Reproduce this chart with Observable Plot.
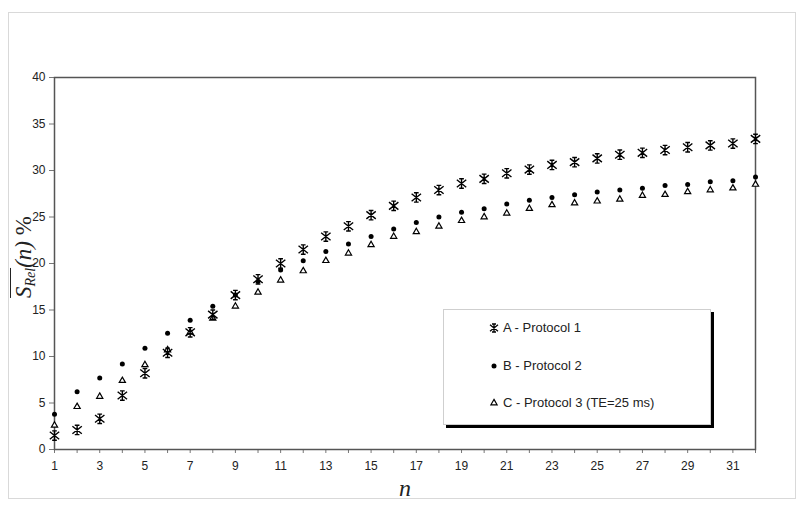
<!DOCTYPE html>
<html><head><meta charset="utf-8">
<script src="https://cdn.jsdelivr.net/npm/d3@7"></script>
<script src="https://cdn.jsdelivr.net/npm/@observablehq/plot@0.6"></script>
<style>
body{margin:0;background:#fff;}
#wrap{position:relative;width:800px;height:515px;font-family:"Liberation Sans",Arial,sans-serif;color:#222;}
#border{position:absolute;left:8px;top:12px;width:788px;height:487px;border:1px solid #d9d9d9;box-sizing:border-box;}
#chart{position:absolute;left:0;top:0;}
#ylab{position:absolute;left:24px;top:257px;transform:translate(-50%,-50%) rotate(-90deg);white-space:nowrap;font-family:"Liberation Serif","Times New Roman",serif;font-size:23px;color:#222;line-height:1;}
#ylab .ov{display:inline-block;border-top:1.3px solid #222;padding-top:1px;font-style:italic;line-height:1;}
#ylab sub{font-size:14px;vertical-align:-4px;line-height:1;}
#legend{position:absolute;left:443px;top:309px;width:268px;height:116px;box-sizing:border-box;background:#fff;border:1px solid #cfcfcf;box-shadow:3px 3px 0 #000;}
.row{position:absolute;left:0;height:20px;line-height:20px;font-size:13px;white-space:nowrap;}
.row svg{position:absolute;left:42px;top:2px;}
.row span{position:absolute;left:59px;}
</style>
</head><body>
<div id="wrap">
  <div id="border"></div>
  <div id="chart"></div>
  <div id="ylab"><span class="ov">S<sub>Rel</sub></span><i>(n)</i>&nbsp;%</div>
  <div id="legend"></div>
</div>
<script>
// ---- data ----
const nValues = [1,2,3,4,5,6,7,8,9,10,11,12,13,14,15,16,17,18,19,20,21,22,23,24,25,26,27,28,29,30,31,32];
const seriesA = [1.5,2.1,3.3,5.8,8.2,10.4,12.6,14.5,16.6,18.3,20.0,21.5,22.9,24.0,25.2,26.2,27.1,27.9,28.6,29.1,29.7,30.1,30.6,30.9,31.3,31.7,31.9,32.2,32.5,32.7,32.9,33.4];
const seriesB = [3.8,6.2,7.7,9.2,10.9,12.5,13.9,15.4,16.6,18.1,19.3,20.3,21.3,22.1,22.9,23.7,24.4,25.0,25.5,25.9,26.4,26.8,27.1,27.4,27.7,27.9,28.1,28.4,28.5,28.8,28.9,29.3];
const seriesC = [2.6,4.6,5.7,7.4,9.1,10.7,12.6,14.1,15.4,16.9,18.2,19.2,20.3,21.1,22.0,22.9,23.4,24.0,24.6,25.0,25.4,25.9,26.3,26.5,26.7,26.9,27.3,27.4,27.7,27.9,28.1,28.5];
const xTickLabels = [1,3,5,7,9,11,13,15,17,19,21,23,25,27,29,31];
const yTicks = [0,5,10,15,20,25,30,35,40];
const seriesNames = ["A - Protocol 1","B - Protocol 2","C - Protocol 3 (TE=25 ms)"];

const rows = nValues.map((n,i)=>({n, a: seriesA[i], b: seriesB[i], c: seriesC[i]}));

// Excel-like star marker: X plus vertical bar
const star = {
  draw(ctx, size){
    const r = Math.sqrt(size/Math.PI);
    ctx.moveTo(-r,-r*0.8); ctx.lineTo(r,r*0.8);
    ctx.moveTo(r,-r*0.8); ctx.lineTo(-r,r*0.8);
    ctx.moveTo(0,-r); ctx.lineTo(0,r);
    ctx.moveTo(-r*0.5,-r); ctx.lineTo(r*0.5,-r);
    ctx.moveTo(-r*0.5,r); ctx.lineTo(r*0.5,r);
  }
};

const chart = Plot.plot({
  width: 800, height: 515,
  marginLeft: 54, marginRight: 45, marginTop: 77, marginBottom: 66,
  x: {domain: [1,32]},
  y: {domain: [0,40]},
  style: {fontFamily: "Liberation Sans, Arial, sans-serif", fontSize: "12px", color: "#222", background: "transparent", overflow: "visible"},
  marks: [
    Plot.axisX({ticks: nValues, tickSize: 4, tickFormat: () => "", stroke: "#777", label: null}),
    Plot.axisX({ticks: xTickLabels, tickSize: 0, tickPadding: 12, label: null, fontSize: 12, fill: "#222"}),
    Plot.axisY({ticks: yTicks, tickSize: 5, tickPadding: 4, stroke: "#777", label: null, fontSize: 12, fill: "#222"}),
    Plot.frame({stroke: "#555", strokeWidth: 1.5}),
    Plot.dot(rows, {x: "n", y: "c", symbol: "triangle", r: 2.3, fill: "white", stroke: "black", strokeWidth: 1.2}),
    Plot.dot(rows, {x: "n", y: "b", symbol: "circle", r: 2.5, fill: "black", stroke: "none"}),
    Plot.dot(rows, {x: "n", y: "a", symbol: star, r: 4.7, fill: "none", stroke: "black", strokeWidth: 1.4}),
    Plot.text(["n"], {frameAnchor: "bottom", dy: 46, fontSize: 24, fontStyle: "italic", fontFamily: "Liberation Serif, Times New Roman, serif", fill: "#222"})
  ]
});
document.getElementById("chart").appendChild(chart);

// legend
const legend = document.getElementById("legend");
const legendSymbols = [star, d3.symbolCircle, d3.symbolTriangle];
const legendR = [4.0, 2.5, 2.3];
seriesNames.forEach((name, i) => {
  const row = document.createElement("div");
  row.className = "row";
  row.style.top = (8 + i*37.5) + "px";
  const svg = d3.create("svg").attr("width", 16).attr("height", 16);
  const r = legendR[i];
  svg.append("path")
    .attr("transform", "translate(8,8)")
    .attr("d", d3.symbol(legendSymbols[i], Math.PI*r*r)())
    .attr("fill", i === 1 ? "black" : (i === 2 ? "white" : "none"))
    .attr("stroke", i === 1 ? "none" : "black")
    .attr("stroke-width", i === 0 ? 1.3 : 1.2);
  row.appendChild(svg.node());
  const span = document.createElement("span");
  span.textContent = name;
  row.appendChild(span);
  legend.appendChild(row);
});
</script>
</body></html>
